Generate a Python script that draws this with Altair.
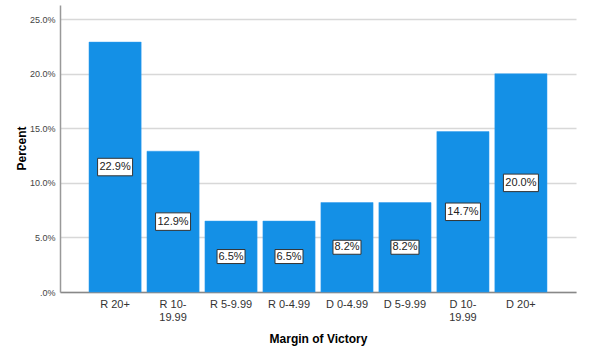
import altair as alt
import pandas as pd

categories = ["R 20+", "R 10-19.99", "R 5-9.99", "R 0-4.99", "D 0-4.99", "D 5-9.99", "D 10-19.99", "D 20+"]
percents = [22.9, 12.9, 6.5, 6.5, 8.2, 8.2, 14.7, 20.0]
y_ticks = [0, 5, 10, 15, 20, 25]

df = pd.DataFrame({"cat": categories, "pct": percents})
df["label"] = [f"{v:.1f}%" for v in percents]

label_expr = ("datum.label == 'R 10-19.99' ? ['R 10-', '19.99'] : "
              "datum.label == 'D 10-19.99' ? ['D 10-', '19.99'] : datum.label")

x_enc = alt.X("cat:N", sort=categories,
              scale=alt.Scale(paddingInner=0.1, paddingOuter=0.5),
              axis=alt.Axis(title="Margin of Victory", labelAngle=0, labelExpr=label_expr, grid=False,
                            labelFont="Liberation Sans", labelFontSize=11, labelColor="#333333",
                            labelPadding=6, ticks=False, domainColor="#888888", domainWidth=1.5,
                            titleFont="Liberation Sans", titleFontSize=12, titleFontWeight="bold",
                            titleColor="#000000", titleY=46, titleBaseline="middle"))

y_scale = alt.Scale(domain=[0, 26.3], nice=False)

bars = alt.Chart(df).mark_bar(color="#1490e6", stroke="#2f9cf0", strokeWidth=0.5).encode(
    x=x_enc,
    y=alt.Y("pct:Q", scale=y_scale,
            axis=alt.Axis(title="Percent", values=y_ticks,
                          labelExpr="datum.value == 0 ? '.0%' : format(datum.value, '.1f') + '%'",
                          labelFont="Liberation Sans", labelFontSize=9, labelColor="#444444",
                          ticks=False, labelPadding=5, domainColor="#999999", domainWidth=1.5,
                          gridColor="#d8d8d8", gridWidth=1.5,
                          titleFont="Liberation Sans", titleFontSize=12, titleFontWeight="bold",
                          titleColor="#000000", titleX=-39, titleY=143, titleBaseline="middle")),
)

base = alt.Chart(df).transform_calculate(
    mid="datum.pct / 2",
    boxsize="pow(length(datum.label) * 7, 2)",
)

boxes = base.mark_point(
    shape="M-1,-0.5H1V0.5H-1Z", filled=True, fill="white", stroke="#333333",
    strokeWidth=1, opacity=1,
).encode(
    x=alt.X("cat:N", sort=categories),
    y=alt.Y("mid:Q", scale=y_scale),
    size=alt.Size("boxsize:Q", scale=None, legend=None),
)

texts = base.mark_text(font="Liberation Sans", fontSize=11, color="#222222").encode(
    x=alt.X("cat:N", sort=categories),
    y=alt.Y("mid:Q", scale=y_scale),
    text="label:N",
)

chart = alt.layer(bars, boxes, texts).properties(
    width=516, height=287,
    background="white",
    autosize=alt.AutoSizeParams(type="none"),
    padding={"left": 60, "top": 5, "right": 24, "bottom": 62},
).configure_view(stroke="#ffffff", strokeOpacity=0, strokeWidth=0)

chart.save("out.html", embed_options={"renderer": "svg", "actions": False})
